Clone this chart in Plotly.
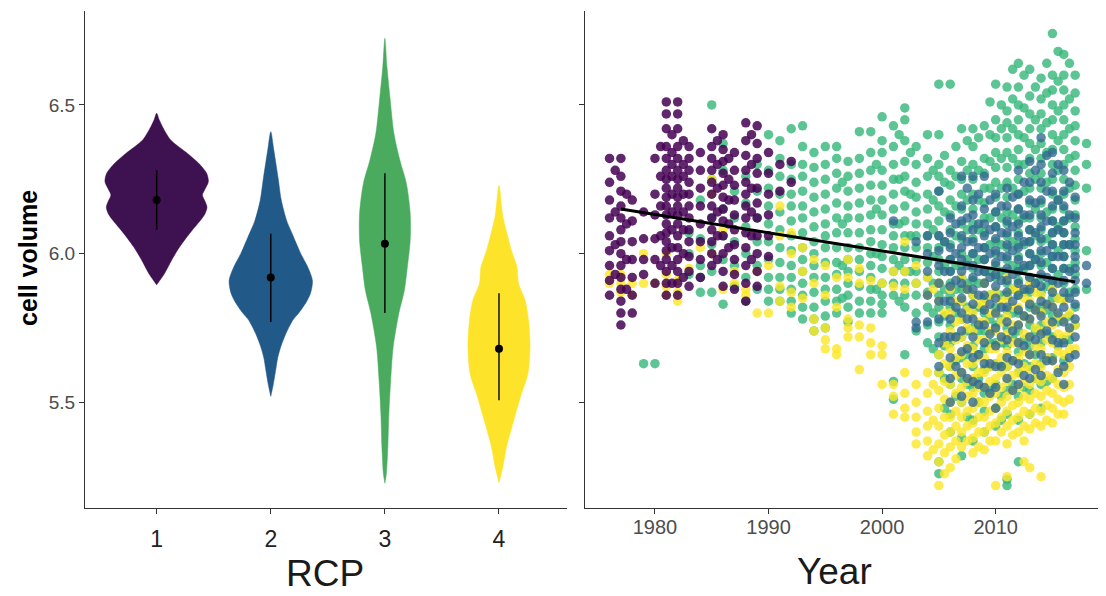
import plotly.graph_objects as go

# ---------------- data ----------------
RCP = [1, 2, 3, 4]
RCP_LABELS = ["1", "2", "3", "4"]
VIOLIN_COLORS = ["#3e1150", "#215a89", "#4aab5f", "#fde42a"]
POINT_COLORS = ["#440154", "#31688e", "#35b779", "#fde725"]

# violin density profiles: cell volume levels (top -> bottom) and half widths (category units)
V1_LEVELS = [6.472, 6.45, 6.427, 6.382, 6.337, 6.304, 6.27, 6.242, 6.215, 6.197, 6.175, 6.156, 6.135, 6.113, 6.068, 6.023, 5.978, 5.934, 5.895]
V1_HALF = [0, 0.022, 0.051, 0.123, 0.270, 0.368, 0.438, 0.453, 0.421, 0.401, 0.425, 0.441, 0.425, 0.386, 0.289, 0.202, 0.131, 0.070, 0]
V2_LEVELS = [6.41, 6.35, 6.25, 6.18, 6.11, 6.07, 6.0, 5.955, 5.91, 5.87, 5.84, 5.80, 5.776, 5.73, 5.687, 5.65, 5.61, 5.56, 5.52]
V2_HALF = [0, 0.026, 0.066, 0.092, 0.140, 0.184, 0.263, 0.324, 0.365, 0.351, 0.316, 0.245, 0.193, 0.131, 0.088, 0.061, 0.044, 0.022, 0]
V3_LEVELS = [6.724, 6.63, 6.52, 6.405, 6.315, 6.237, 6.135, 6.045, 5.955, 5.877, 5.80, 5.687, 5.575, 5.46, 5.35, 5.26, 5.228]
V3_HALF = [0, 0.018, 0.046, 0.079, 0.131, 0.188, 0.222, 0.222, 0.197, 0.171, 0.123, 0.073, 0.051, 0.035, 0.026, 0.013, 0]
V4_LEVELS = [6.23, 6.125, 6.01, 5.955, 5.90, 5.844, 5.776, 5.687, 5.597, 5.52, 5.43, 5.35, 5.285, 5.23]
V4_HALF = [0, 0.035, 0.110, 0.158, 0.171, 0.228, 0.259, 0.272, 0.254, 0.190, 0.123, 0.066, 0.035, 0]

MEANS = [6.18, 5.92, 6.033, 5.68]
SD_LOW = [6.08, 5.77, 5.80, 5.507]
SD_HIGH = [6.28, 6.067, 6.27, 5.867]

# scatter: year -> cell volume values (x100), one dict per RCP group
PURPLE = {
    1976: [632, 624, 618, 612, 606, 601, 596, 591, 586],
    1976.5: [628, 614, 603, 593],
    1977: [632, 626, 621, 616, 612, 608, 604, 600, 596, 592, 588, 584, 580, 576],
    1977.5: [620, 610, 598, 588],
    1978: [618, 611, 604, 598, 592, 586, 580],
    1979: [614, 605, 598, 593],
    1980: [632, 620, 613, 605, 598, 590],
    1980.5: [636, 626, 616, 606, 596],
    1981: [651, 647, 642, 636, 632, 628, 625, 622, 619, 616, 613, 610, 607, 604, 601, 598, 594, 590, 586],
    1981.5: [640, 634, 630, 626, 620, 614, 608, 602, 596, 590],
    1982: [651, 647, 642, 636, 632, 628, 625, 622, 619, 616, 613, 610, 606, 602, 598, 594, 590, 586],
    1982.5: [638, 630, 626, 620, 614, 608, 600, 592],
    1983: [636, 632, 628, 624, 620, 616, 612, 608, 604, 599, 594, 589],
    1984: [634, 628, 622, 616, 610, 604, 598, 592],
    1985: [642, 636, 632, 628, 624, 620, 616, 612, 608, 604, 600, 596],
    1985.5: [638, 630, 622, 614, 606, 598],
    1986: [640, 635, 631, 627, 623, 619, 615, 611, 606, 600, 594, 589],
    1986.5: [632, 625, 618, 610, 602],
    1987: [634, 628, 623, 618, 613, 608, 603, 598, 593, 588],
    1988: [644, 638, 633, 628, 624, 620, 616, 612, 607, 602, 596, 590, 584],
    1988.5: [640, 630, 622, 614, 606, 598],
    1989: [643, 637, 632, 627, 622, 617, 612, 606, 600, 594, 589],
    1990: [634, 627, 620, 613, 606, 599],
    1991: [630, 621],
    1992: [631, 624],
}
BLUE = {
    2001: [611],
    2003: [604, 577, 575],
    2004: [606, 600, 594, 586, 577],
    2005: [621, 606, 601, 596, 590, 584, 578, 570, 562],
    2005.5: [604, 594, 584, 572],
    2006: [612, 607, 602, 598, 594, 589, 584, 578, 572, 565, 558, 550],
    2006.5: [610, 600, 591, 582, 572, 562],
    2007: [626, 616, 611, 606, 602, 598, 594, 590, 585, 580, 574, 567, 560, 552],
    2007.5: [622, 612, 604, 596, 588, 578, 568, 558],
    2008: [626, 618, 613, 608, 604, 600, 596, 592, 588, 583, 578, 572, 565, 557, 550],
    2008.5: [620, 610, 602, 594, 586, 576, 566, 556],
    2009: [626, 615, 610, 606, 602, 598, 594, 590, 586, 581, 576, 570, 563, 555],
    2009.5: [618, 608, 600, 592, 583, 573, 563, 553],
    2010: [620, 614, 609, 605, 601, 597, 593, 589, 585, 580, 575, 569, 562, 555, 548],
    2010.5: [616, 607, 599, 591, 582, 572, 562],
    2011: [622, 616, 611, 607, 603, 599, 595, 591, 587, 582, 577, 571, 565, 558],
    2011.5: [619, 609, 601, 593, 584, 574, 564, 554],
    2012: [628, 620, 615, 610, 606, 602, 598, 594, 590, 586, 581, 576, 570, 563, 556],
    2012.5: [624, 613, 604, 596, 588, 579, 569, 559],
    2013: [631, 624, 618, 613, 608, 604, 600, 596, 592, 588, 583, 578, 572, 566, 558],
    2013.5: [628, 617, 607, 598, 590, 581, 571, 561],
    2014: [639, 630, 624, 618, 613, 609, 605, 601, 597, 593, 589, 584, 579, 573, 566, 559],
    2014.5: [633, 621, 611, 601, 592, 583, 574, 564],
    2015: [634, 627, 621, 616, 611, 607, 603, 599, 595, 591, 587, 582, 577, 571, 564],
    2015.5: [630, 618, 608, 599, 590, 580, 570, 560],
    2016: [628, 621, 616, 611, 607, 603, 599, 595, 591, 587, 582, 577, 570, 562, 556],
    2016.5: [624, 613, 603, 594, 585, 575, 565],
    2017: [619, 612, 607, 603, 599, 595, 591, 587, 583, 578, 572, 566],
    2018: [596, 590],
}
GREEN = {
    1979: [563],
    1980: [563],
    1983: [607, 600, 593],
    1984: [618, 605, 596, 587, 592],
    1985: [650, 625, 612, 603, 594, 587],
    1986: [637, 628, 615, 606, 598, 583],
    1987: [621, 612, 604, 596, 589],
    1988: [626, 617, 609, 600, 592, 584],
    1989: [630, 621, 612, 604, 596, 588],
    1990: [640, 628, 622, 616, 610, 604, 598, 592, 588, 584],
    1991: [638, 632, 626, 620, 614, 608, 602, 597, 592, 588, 584],
    1992: [642, 630, 625, 620, 616, 611, 606, 601, 596, 592, 588, 584, 580],
    1993: [643, 636, 630, 626, 621, 616, 612, 607, 602, 598, 594, 590, 586, 582, 578],
    1994: [634, 629, 624, 619, 614, 609, 604, 600, 596, 592, 587, 582, 578, 574],
    1995: [636, 630, 625, 620, 615, 610, 606, 602, 597, 592, 588, 584, 579, 575],
    1996: [636, 632, 627, 622, 617, 612, 607, 602, 597, 593, 588, 584, 580],
    1996.5: [624, 610, 596, 585],
    1997: [631, 626, 621, 616, 612, 607, 602, 598, 594, 590, 586, 582, 577],
    1998: [641, 632, 627, 622, 617, 612, 607, 602, 598, 594, 589, 584, 580],
    1999: [641, 634, 628, 623, 618, 613, 608, 604, 600, 596, 592, 588, 584, 580],
    1999.5: [630, 615, 600, 588],
    2000: [646, 638, 634, 628, 623, 618, 613, 608, 603, 599, 595, 590, 586, 583, 580],
    2001: [643, 636, 630, 625, 620, 615, 610, 606, 602, 598, 594, 590, 586, 557, 551],
    2001.5: [640, 625, 610, 596, 584],
    2002: [649, 645, 638, 631, 626, 621, 616, 611, 606, 602, 598, 594, 590, 586, 582, 566],
    2002.5: [634, 620, 606, 594],
    2003: [636, 630, 624, 619, 614, 610, 606, 602, 598, 594, 590, 586, 580, 574],
    2004: [640, 632, 626, 620, 615, 610, 606, 602, 597, 592, 587, 582, 576, 570],
    2004.5: [628, 618, 608, 599, 590, 580, 568],
    2005: [657, 640, 630, 626, 621, 616, 611, 606, 602, 598, 594, 590, 586, 582, 577, 572, 566, 560, 530, 526],
    2005.5: [633, 624, 614, 604, 596, 588, 579, 569, 558, 548],
    2006: [657, 628, 623, 618, 613, 608, 603, 598, 594, 590, 586, 582, 576, 570, 562, 556, 546, 540],
    2006.5: [636, 626, 616, 606, 596, 588, 580, 572, 564, 552],
    2007: [642, 631, 625, 620, 615, 610, 605, 600, 596, 592, 588, 584, 578, 572, 565, 558, 550, 538, 532],
    2007.5: [638, 628, 618, 608, 598, 590, 582, 574, 566, 556, 545],
    2008: [642, 636, 630, 625, 620, 615, 610, 605, 600, 595, 591, 586, 581, 575, 569, 562, 555, 544, 537],
    2008.5: [639, 628, 618, 608, 598, 590, 582, 574, 566, 558, 550],
    2009: [643, 632, 627, 622, 617, 612, 607, 602, 598, 594, 590, 585, 580, 574, 568, 561, 553, 547, 540],
    2009.5: [651, 640, 631, 622, 612, 603, 594, 586, 578, 570, 562, 554],
    2010: [657, 645, 639, 634, 629, 624, 619, 614, 609, 604, 600, 596, 592, 587, 582, 576, 570, 563, 556, 548, 542],
    2010.5: [650, 642, 632, 622, 612, 603, 594, 586, 578, 570, 562, 552, 544],
    2011: [656, 648, 644, 639, 634, 629, 624, 619, 614, 610, 606, 602, 598, 594, 590, 586, 581, 575, 569, 562, 554, 546, 524, 522],
    2011.5: [662, 652, 642, 632, 622, 613, 604, 596, 588, 580, 572, 564, 556],
    2012: [664, 656, 650, 645, 640, 635, 630, 625, 620, 615, 611, 607, 603, 599, 595, 591, 586, 580, 574, 567, 560, 552, 544, 530],
    2012.5: [660, 649, 639, 630, 621, 612, 603, 595, 587, 579, 571, 563, 555],
    2013: [662, 653, 647, 642, 637, 632, 627, 622, 617, 612, 608, 604, 600, 596, 592, 587, 582, 576, 569, 562, 554, 546],
    2013.5: [656, 645, 635, 625, 615, 606, 598, 590, 582, 574, 566, 558],
    2014: [659, 652, 647, 642, 637, 632, 627, 622, 617, 612, 608, 604, 600, 596, 592, 587, 582, 576, 570, 563, 556, 548],
    2014.5: [664, 654, 644, 634, 624, 614, 605, 597, 589, 581, 573, 565, 557],
    2015: [674, 660, 655, 650, 645, 640, 635, 630, 625, 620, 615, 611, 607, 603, 599, 595, 590, 585, 579, 572, 565, 558],
    2015.5: [668, 658, 648, 638, 628, 618, 609, 601, 593, 585, 577, 569],
    2016: [667, 660, 655, 650, 645, 640, 635, 630, 625, 620, 615, 611, 607, 603, 599, 595, 590, 585, 578, 571, 564],
    2016.5: [664, 652, 642, 632, 622, 612, 603, 595, 587, 579, 571],
    2017: [660, 654, 648, 643, 638, 633, 628, 623, 618, 613, 609, 605, 601, 597, 593, 588, 582, 576],
    2018: [637, 630, 622, 601, 588],
}
YELLOW = {
    1976: [590, 593],
    1977: [593, 590, 587],
    1978: [590, 586],
    1979: [600, 590],
    1980: [590],
    1981: [600, 593, 589, 586],
    1982: [591, 587, 584],
    1983: [595],
    1984: [602],
    1985: [625, 620, 600],
    1986: [608, 588],
    1987: [594, 590],
    1988: [588, 586],
    1989: [594, 580],
    1990: [596, 580],
    1991: [616, 606, 589, 584],
    1992: [607, 600, 587, 582],
    1993: [602, 594, 585],
    1994: [598, 590, 578, 574],
    1995: [596, 586, 575, 571, 568],
    1996: [592, 582, 568, 566],
    1997: [598, 592, 578, 575, 572],
    1998: [595, 590, 576, 572, 561],
    1999: [591, 575, 570, 566],
    2000: [590, 569, 566, 556],
    2001: [594, 589, 556, 552, 546],
    2002: [604, 594, 588, 560, 553, 548, 545],
    2003: [596, 590, 556, 550, 545, 540, 536],
    2004: [592, 586, 560, 553, 547, 542, 537, 532],
    2004.5: [588, 556, 544, 534],
    2005: [590, 584, 566, 560, 554, 548, 542, 536, 530, 522],
    2005.5: [580, 570, 563, 557, 551, 545, 539, 533, 526],
    2006: [588, 580, 574, 568, 562, 556, 550, 545, 540, 535, 528],
    2006.5: [584, 577, 571, 565, 559, 553, 547, 542, 537, 531],
    2007: [592, 584, 578, 572, 566, 560, 555, 550, 545, 540, 535],
    2007.5: [588, 581, 575, 569, 563, 557, 552, 547, 542, 537],
    2008: [586, 580, 574, 568, 563, 558, 553, 548, 543, 538, 533],
    2008.5: [583, 577, 571, 565, 560, 555, 550, 545, 540, 535],
    2009: [590, 583, 577, 571, 565, 560, 555, 550, 545, 540, 534],
    2009.5: [586, 580, 574, 568, 562, 557, 552, 547, 542, 537],
    2010: [587, 580, 574, 568, 563, 558, 553, 548, 543, 537, 522],
    2010.5: [584, 577, 571, 565, 560, 555, 550, 545, 540],
    2011: [592, 585, 579, 573, 567, 562, 557, 552, 547, 542, 536, 525],
    2011.5: [588, 582, 576, 570, 564, 559, 554, 549, 544, 539],
    2012: [588, 582, 576, 570, 565, 560, 555, 550, 545, 540],
    2012.5: [585, 579, 573, 567, 562, 557, 552, 547, 542, 537, 530],
    2013: [590, 584, 578, 572, 566, 561, 556, 551, 546, 541, 528],
    2013.5: [587, 581, 575, 569, 563, 558, 553, 548, 543],
    2014: [586, 580, 574, 568, 562, 557, 552, 547, 542, 525],
    2014.5: [583, 577, 571, 565, 559, 554, 549, 544],
    2015: [588, 582, 576, 570, 564, 558, 553, 548, 543],
    2015.5: [585, 579, 573, 567, 561, 556, 551, 546],
    2016: [584, 578, 572, 566, 560, 555, 550, 546],
    2016.5: [580, 574, 568, 562, 556, 551],
    2017: [576, 568],
}

# fitted trend
TREND_YEARS = [1977, 2017]
TREND_VALUES = [6.15, 5.905]

Y_TICKS = [5.5, 6.0, 6.5]
Y_TICK_TEXT = ["5.5", "6.0", "6.5"]
YEAR_TICKS = [1980, 1990, 2000, 2010]

FONT = "Liberation Sans, Arial, sans-serif"

# ---------------- figure ----------------
fig = go.Figure()

profiles = [(V1_LEVELS, V1_HALF), (V2_LEVELS, V2_HALF), (V3_LEVELS, V3_HALF), (V4_LEVELS, V4_HALF)]
for c, (lev, half), col in zip(RCP, profiles, VIOLIN_COLORS):
    xs = [c + h for h in half] + [c - h for h in reversed(half)]
    ys = list(lev) + list(reversed(lev))
    fig.add_trace(go.Scatter(x=xs, y=ys, mode="lines", fill="toself", fillcolor=col,
                             line=dict(color=col, width=0.5, shape="spline", smoothing=0.8),
                             hoverinfo="skip", showlegend=False, xaxis="x", yaxis="y"))

for c, lo, hi in zip(RCP, SD_LOW, SD_HIGH):
    fig.add_trace(go.Scatter(x=[c, c], y=[lo, hi], mode="lines", line=dict(color="black", width=1.4),
                             showlegend=False, xaxis="x", yaxis="y"))
fig.add_trace(go.Scatter(x=RCP, y=MEANS, mode="markers", marker=dict(color="black", size=8),
                         showlegend=False, xaxis="x", yaxis="y"))


def flatten(d):
    xs, ys = [], []
    for yr, vals in d.items():
        for v in vals:
            xs.append(yr)
            ys.append(v / 100.0)
    return xs, ys


for d, col, op in [(GREEN, POINT_COLORS[2], 0.8), (YELLOW, POINT_COLORS[3], 0.8),
                   (BLUE, POINT_COLORS[1], 0.78), (PURPLE, POINT_COLORS[0], 0.85)]:
    xs, ys = flatten(d)
    fig.add_trace(go.Scatter(x=xs, y=ys, mode="markers",
                             marker=dict(color=col, size=9.5, opacity=op, line=dict(width=0)),
                             showlegend=False, xaxis="x2", yaxis="y2"))

fig.add_trace(go.Scatter(x=TREND_YEARS, y=TREND_VALUES, mode="lines", line=dict(color="black", width=3),
                         showlegend=False, xaxis="x2", yaxis="y2"))

# page pixel -> paper coordinates (the page body adds an 8px margin)
OFF = 8
W, H = 1106 - OFF, 596 - OFF


def px(xp):
    return (xp - OFF) / W


def py(yp):
    return 1 - (yp - OFF) / H


ydom = [py(507.7), py(11)]
yrange = [5.1455, 6.816]
axis_common = dict(showline=True, linecolor="#333333", linewidth=1.2, ticks="outside", ticklen=5,
                   tickcolor="#333333", tickwidth=1, showgrid=False, zeroline=False)

fig.update_layout(
    width=W, height=H, margin=dict(l=0, r=0, t=0, b=0),
    paper_bgcolor="white", plot_bgcolor="white",
    font=dict(family=FONT),
    xaxis=dict(domain=[px(85), px(567)], range=[0.372, 4.596], tickvals=RCP, ticktext=RCP_LABELS,
               tickfont=dict(size=23, color="#222222"), ticklabelstandoff=6, anchor="y", **axis_common),
    yaxis=dict(domain=ydom, range=yrange, tickvals=Y_TICKS, ticktext=Y_TICK_TEXT,
               tickfont=dict(size=19, color="#4d4d4d"), anchor="x", **axis_common),
    xaxis2=dict(domain=[px(585), px(1104)], range=[1973.84, 2019.54], tickvals=YEAR_TICKS,
                tickfont=dict(size=20, color="#4d4d4d"), ticklabelstandoff=-4, anchor="y2", **axis_common),
    yaxis2=dict(domain=ydom, range=yrange, tickvals=Y_TICKS, showticklabels=False, anchor="x2", **axis_common),
    annotations=[
        dict(text="RCP", x=px(325), y=py(573), xref="paper", yref="paper", showarrow=False,
             font=dict(size=37, color="#1a1a1a", family=FONT), xanchor="center", yanchor="middle"),
        dict(text="Year", x=px(834), y=py(571), xref="paper", yref="paper", showarrow=False,
             font=dict(size=37, color="#1a1a1a", family=FONT), xanchor="center", yanchor="middle"),
        dict(text="<b>cell volume</b>", x=px(28), y=py(258), xref="paper", yref="paper", showarrow=False,
             textangle=-90, font=dict(size=25, color="#000000", family=FONT), xanchor="center", yanchor="middle"),
    ],
)

fig.write_html("out.html")
